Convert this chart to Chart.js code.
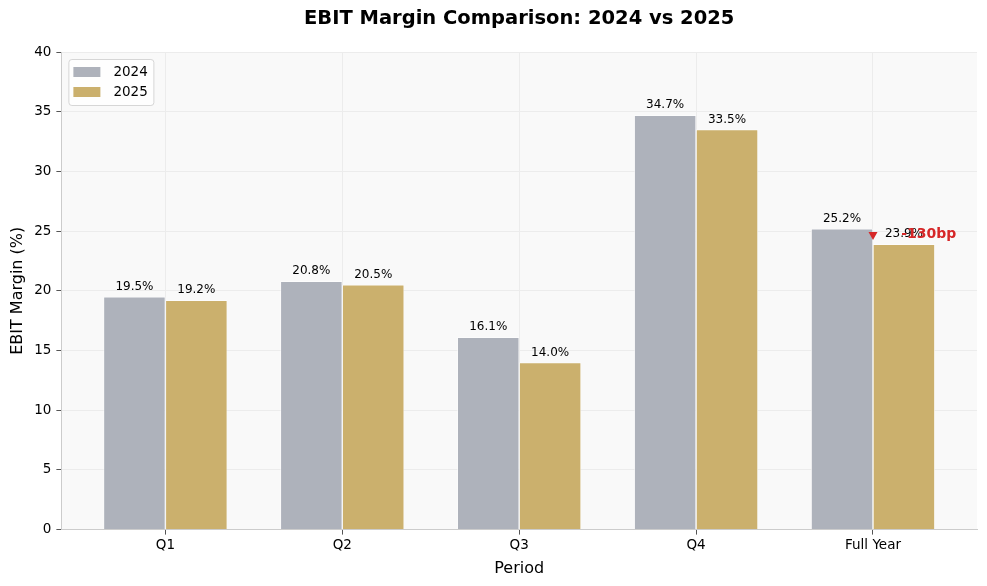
<!DOCTYPE html>
<html>
<head>
<meta charset="utf-8">
<script src="https://cdn.jsdelivr.net/npm/chart.js@4.4.0/dist/chart.umd.min.js"></script>
<style>
html,body{margin:0;padding:0;background:#ffffff;}
#wrap{width:987px;height:586px;position:relative;}
</style>
</head>
<body>
<div id="wrap"><canvas id="c" width="987" height="586"></canvas></div>
<script>
const categories = ["Q1", "Q2", "Q3", "Q4", "Full Year"];
const values2024 = [19.5, 20.8, 16.1, 34.7, 25.2];
const values2025 = [19.2, 20.5, 14.0, 33.5, 23.9];
const seriesNames = ["2024", "2025"];
const yTicks = [0, 5, 10, 15, 20, 25, 30, 35, 40];
const annotationText = "-130bp";
const annotationPoint = [4, 24.6];
const annotationTextPoint = [4.16, 24.7];

const titleText = "EBIT Margin Comparison: 2024 vs 2025";
const FONT = "'DejaVu Sans', sans-serif";

const bgPlugin = {
  id: 'bgPlugin',
  beforeDraw(chart) {
    const {ctx, chartArea: a} = chart;
    ctx.save();
    ctx.fillStyle = '#ffffff';
    ctx.fillRect(0, 0, chart.width, chart.height);
    ctx.fillStyle = '#f9f9f9';
    ctx.fillRect(a.left, a.top, a.right - a.left, a.bottom - a.top);
    ctx.restore();
  }
};

const overlayPlugin = {
  id: 'overlayPlugin',
  afterDatasetsDraw(chart) {
    const {ctx, chartArea: a, scales} = chart;
    ctx.save();
    // data labels
    ctx.font = "12px " + FONT;
    ctx.fillStyle = '#000000';
    ctx.textAlign = 'center';
    ctx.textBaseline = 'bottom';
    chart.data.datasets.forEach((ds, di) => {
      const meta = chart.getDatasetMeta(di);
      meta.data.forEach((bar, i) => {
        ctx.fillText(ds.data[i].y.toFixed(1) + '%', bar.x, bar.y - 4);
      });
    });
    // annotation
    const ax = scales.x.getPixelForValue(annotationPoint[0]);
    const ay = scales.y.getPixelForValue(annotationPoint[1]);
    ctx.fillStyle = '#d62728';
    ctx.beginPath();
    ctx.moveTo(ax - 4.5, ay - 4);
    ctx.lineTo(ax + 4.5, ay - 4);
    ctx.lineTo(ax, ay + 4);
    ctx.closePath();
    ctx.fill();
    ctx.font = "bold 14px " + FONT;
    ctx.textAlign = 'left';
    ctx.textBaseline = 'middle';
    ctx.fillText(annotationText,
      scales.x.getPixelForValue(annotationTextPoint[0]),
      scales.y.getPixelForValue(annotationTextPoint[1]));
    // title
    ctx.fillStyle = '#000000';
    ctx.font = "bold 19.5px " + FONT;
    ctx.textAlign = 'center';
    ctx.textBaseline = 'middle';
    ctx.fillText(titleText, (a.left + a.right) / 2, 19);
    // legend
    const lx = a.left + 7, ly = a.top + 7, lw = 85, lh = 46;
    ctx.beginPath();
    ctx.roundRect(lx + 0.5, ly + 0.5, lw, lh, 3);
    ctx.fillStyle = 'rgba(255,255,255,0.85)';
    ctx.fill();
    ctx.strokeStyle = '#d6d6d6';
    ctx.lineWidth = 1;
    ctx.stroke();
    ctx.font = "13.5px " + FONT;
    ctx.textAlign = 'left';
    ctx.textBaseline = 'middle';
    chart.data.datasets.forEach((ds, di) => {
      const rowY = ly + 13 + di * 20;
      ctx.fillStyle = ds.backgroundColor;
      ctx.fillRect(lx + 5, rowY - 5, 27, 10);
      ctx.fillStyle = '#000000';
      ctx.fillText(ds.label, lx + 45, rowY + 0.5);
    });
    ctx.restore();
  }
};

new Chart(document.getElementById('c'), {
  type: 'bar',
  data: {
    datasets: [
      {
        label: seriesNames[0],
        data: values2024.map((v, i) => ({x: i, y: v})),
        backgroundColor: '#aeb2bb',
        borderColor: '#ffffff',
        borderWidth: 0.7
      },
      {
        label: seriesNames[1],
        data: values2025.map((v, i) => ({x: i, y: v})),
        backgroundColor: '#cbb06d',
        borderColor: '#ffffff',
        borderWidth: 0.7
      }
    ]
  },
  options: {
    responsive: false,
    animation: false,
    devicePixelRatio: 1,
    categoryPercentage: 0.7,
    barPercentage: 1.0,
    layout: {padding: {top: 52, right: 10, left: 8, bottom: 8}},
    plugins: {
      legend: {display: false},
      title: {display: false},
      tooltip: {enabled: false}
    },
    scales: {
      x: {
        type: 'linear',
        min: -0.588,
        max: 4.588,
        offset: false,
        afterBuildTicks: (axis) => { axis.ticks = categories.map((c, i) => ({value: i})); },
        ticks: {
          callback: (v) => categories[v],
          color: '#000000',
          font: {family: FONT, size: 13.5},
          padding: 3,
          maxRotation: 0,
          autoSkip: false
        },
        grid: {offset: false, color: '#ececec', lineWidth: 1, tickLength: 5, tickColor: '#555555', drawTicks: true},
        border: {display: true, color: '#cccccc', width: 1},
        title: {display: true, text: 'Period', color: '#000000', font: {family: FONT, size: 16}, padding: {top: 2, bottom: 0}}
      },
      y: {
        min: 0,
        max: 40,
        afterBuildTicks: (axis) => { axis.ticks = yTicks.map(v => ({value: v})); },
        ticks: {
          color: '#000000',
          font: {family: FONT, size: 13.5},
          padding: 5
        },
        grid: {color: '#ececec', lineWidth: 1, tickLength: 5, tickColor: '#555555', drawTicks: true},
        border: {display: true, color: '#cccccc', width: 1},
        title: {display: true, text: 'EBIT Margin (%)', color: '#000000', font: {family: FONT, size: 16}, padding: {top: 0, bottom: 2}}
      }
    }
  },
  plugins: [bgPlugin, overlayPlugin]
});
</script>
</body>
</html>
